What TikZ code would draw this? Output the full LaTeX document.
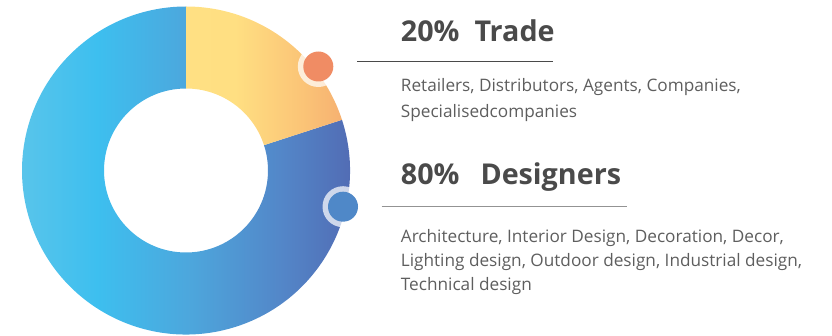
\documentclass[tikz,border=0pt]{standalone}
\usepackage{fontspec}
\setmainfont{Open Sans}
\definecolor{bA}{HTML}{5CC5EA}
\definecolor{bB}{HTML}{3DBFEF}
\definecolor{bC}{HTML}{4DA6DC}
\definecolor{bD}{HTML}{5386C8}
\definecolor{bE}{HTML}{5165AF}
\definecolor{yA}{HTML}{FFE083}
\definecolor{yB}{HTML}{FFDF82}
\definecolor{yC}{HTML}{FBC577}
\definecolor{yD}{HTML}{F6B171}
\definecolor{dotorange}{HTML}{F08C64}
\definecolor{dotblue}{HTML}{4F88C8}
\definecolor{titlegray}{HTML}{4A4A4A}
\definecolor{bodygray}{HTML}{5E5E5E}
\pgfdeclarehorizontalshading{ringblue}{100bp}{color(0bp)=(bA); color(25bp)=(bA); color(36.9bp)=(bB); color(50bp)=(bC); color(62.8bp)=(bD); color(75bp)=(bE); color(100bp)=(bE)}
\pgfdeclarehorizontalshading{ringyellow}{100bp}{color(0bp)=(yA); color(25bp)=(yA); color(40.7bp)=(yB); color(61.5bp)=(yC); color(75bp)=(yD); color(100bp)=(yD)}
\tikzset{
  titletext/.style={anchor=base west, inner sep=0pt, text=titlegray, font=\fontsize{28.7}{34}\selectfont\bfseries},
  bodytext/.style={anchor=base west, inner sep=0pt, text=bodygray, font=\fontsize{17.2}{20}\selectfont},
  halo/.style={circle, inner sep=0pt, minimum size=41pt, fill=white, fill opacity=0.72},
  dot/.style={circle, inner sep=0pt, minimum size=30pt},
  ruleA/.style={draw=titlegray, line width=1.2pt},
  ruleB/.style={draw=gray!85, line width=1.5pt}
}
\begin{document}
\begin{tikzpicture}[x=1pt,y=1pt]
\useasboundingbox (0,0) rectangle (832,335);
\coordinate (C) at (186,164.5);
% blue segment (80%)
\shade[shading=ringblue] (C) ++(18:164pt) arc[start angle=18,end angle=-270,radius=164pt] -- ++(0,-82pt) arc[start angle=90,end angle=378,radius=82pt] -- cycle;
% yellow segment (20%)
\shade[shading=ringyellow] (C) ++(90:164pt) arc[start angle=90,end angle=18,radius=164pt] -- ++(198:82pt) arc[start angle=18,end angle=90,radius=82pt] -- cycle;
% markers
\node[halo] (h1) at (318.3,268.5) {};
\node[dot, fill=dotorange] (d1) at (318.3,268.5) {};
\node[halo] (h2) at (343,128.3) {};
\node[dot, fill=dotblue] (d2) at (343,128.3) {};
% rules
\coordinate (r1a) at (357.3,273.7);
\coordinate (r1b) at (552.7,273.7);
\draw[ruleA] (r1a) -- (r1b);
\coordinate (r2a) at (381.7,128.3);
\coordinate (r2b) at (626.7,128.3);
\draw[ruleB] (r2a) -- (r2b);
% texts
\node[titletext] (t1) at (400.7,293.3) {20\%\hspace{15pt}Trade};
\node[bodytext] (b1a) at (400.7,243.3) {Retailers, Distributors, Agents, Companies,};
\node[bodytext] (b1b) at (400.7,217.7) {Specialisedcompanies};
\node[titletext] (t2) at (400.7,150) {80\%\hspace{21pt}Designers};
\node[bodytext] (b2a) at (400.7,92.7) {Architecture, Interior Design, Decoration, Decor,};
\node[bodytext] (b2b) at (400.7,68.3) {Lighting design, Outdoor design, Industrial design,};
\node[bodytext] (b2c) at (400.7,45) {Technical design};
\end{tikzpicture}
\end{document}
